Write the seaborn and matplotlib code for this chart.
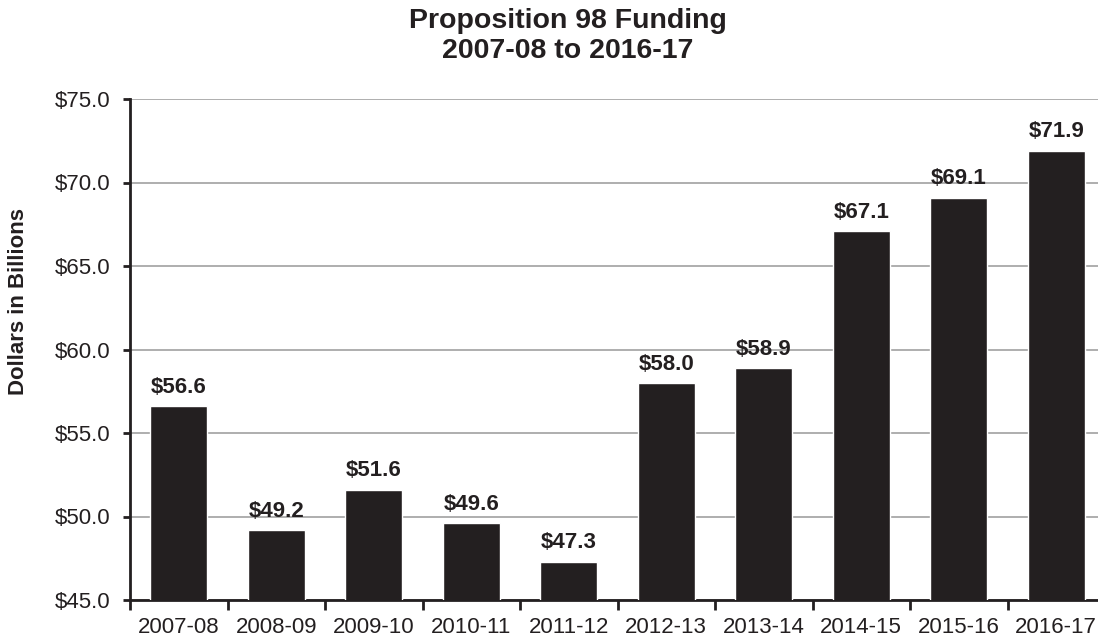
import matplotlib
matplotlib.use("Agg")
import matplotlib.pyplot as plt
import seaborn as sns
import pandas as pd
import numpy as np
from matplotlib.ticker import FixedLocator

years = ["2007-08", "2008-09", "2009-10", "2010-11", "2011-12",
         "2012-13", "2013-14", "2014-15", "2015-16", "2016-17"]
funding = [56.6, 49.2, 51.6, 49.6, 47.3, 58.0, 58.9, 67.1, 69.1, 71.9]
yticks = [45.0, 50.0, 55.0, 60.0, 65.0, 70.0, 75.0]

sns.set_style("white")
plt.rcParams['font.family'] = ['Liberation Sans', 'DejaVu Sans']

df = pd.DataFrame({"year": years, "funding": funding})

W, H = 1098, 638
fig = plt.figure(figsize=(W / 100, H / 100), dpi=100)
ax = fig.add_axes([130 / W, (H - 600) / H, (1105 - 130) / W, (600 - 99) / H])

sns.barplot(data=df, x="year", y="funding", color="#231f20", width=0.58,
            saturation=1, ax=ax, zorder=3)

ax.set_ylim(45, 75)
ax.set_xlim(-0.5, len(years) - 0.5)
ax.set_yticks(yticks)
ax.set_yticklabels([f"${v:.1f}" for v in yticks], fontsize=16, color="#231f20")
ax.yaxis.grid(True, color="#a8a8a8", linewidth=1.3, zorder=0)
ax.set_axisbelow(True)

ax.set_xticks(range(len(years)))
ax.set_xticklabels(years, fontsize=16, color="#231f20")
ax.tick_params(axis="x", which="major", bottom=True, length=0, pad=12)
ax.xaxis.set_minor_locator(FixedLocator(np.arange(-0.5, len(years), 1.0)))
ax.tick_params(axis="x", which="minor", bottom=True, length=7, width=2,
               color="#231f20", direction="out")
ax.tick_params(axis="y", which="major", left=True, length=5, width=2,
               color="#231f20", pad=9, direction="out")

for s in ["top", "right"]:
    ax.spines[s].set_visible(False)
for s in ["left", "bottom"]:
    ax.spines[s].set_color("#231f20")
    ax.spines[s].set_linewidth(2)

ax.set_xlabel("")
ax.set_ylabel("Dollars in Billions", fontsize=16, fontweight="bold", color="#231f20")
ax.yaxis.set_label_coords(-(130 - 29) / (1105 - 130), 0.595, transform=ax.transAxes)

for i, v in enumerate(funding):
    ax.annotate(f"${v:.1f}", xy=(i, v), xytext=(0, 6), textcoords="offset points",
                ha="center", va="bottom", fontsize=16, fontweight="bold", color="#231f20")

fig.text(568 / W, 1 - 36 / H, "Proposition 98 Funding\n2007-08 to 2016-17",
         ha="center", va="center", fontsize=20.5, fontweight="bold",
         color="#231f20", linespacing=1.2)

fig.savefig("out.png", dpi=100)
